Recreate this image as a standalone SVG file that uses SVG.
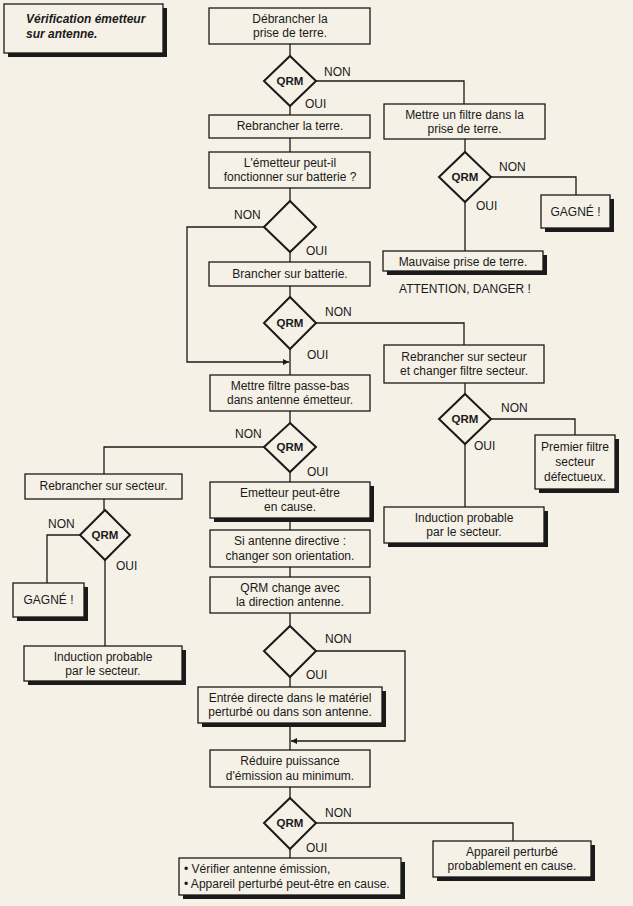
<svg xmlns="http://www.w3.org/2000/svg" width="633" height="906" viewBox="0 0 633 906">
<defs>
<style>
.bg{fill:#f5f1e7}
.box{fill:#f5f1e7;stroke:#1a1a1a;stroke-width:1.3}
.sh{fill:#1a1a1a}
.dia{fill:#f5f1e7;stroke:#1a1a1a;stroke-width:2}
.ln{fill:none;stroke:#1a1a1a;stroke-width:1.3}
text{font-family:"Liberation Sans",Arial,sans-serif;font-size:12px;fill:#1a1a1a}
.c{text-anchor:middle}
.q{font-weight:bold;font-size:11.5px;text-anchor:middle}
.t{font-weight:bold;font-style:italic}
</style>
<marker id="ar" viewBox="0 0 10 10" refX="10" refY="5" markerWidth="7" markerHeight="6" orient="auto" markerUnits="userSpaceOnUse"><path d="M0,0 L10,5 L0,10 z" fill="#1a1a1a"/></marker>
</defs>
<rect class="bg" x="0" y="0" width="633" height="906"/>

<g id="connectors">
<path class="ln" d="M290,44 V56 M290,106 V115 M290,138 V152 M290,188 V201 M290,252 V262 M290,286 V297 M290,349 V375 M290,411 V423 M290,472 V482 M290,518 V530 M290,567 V577 M290,613 V626 M290,677 V687 M290,723 V750 M290,787 V798 M290,849 V858"/>
<path class="ln" d="M316,81 H464 V104"/>
<path class="ln" d="M465,139 V152 M465,202 V251"/>
<path class="ln" d="M491,177 H576 V195"/>
<path class="ln" d="M264,227 H187 V362 H289" marker-end="url(#ar)"/>
<path class="ln" d="M316,323 H464 V345"/>
<path class="ln" d="M465,383 V394 M465,444 V507"/>
<path class="ln" d="M491,419 H575 V435"/>
<path class="ln" d="M264,447 H104 V474"/>
<path class="ln" d="M104,499 V510 M105,560 V646"/>
<path class="ln" d="M80,535 H47 V583"/>
<path class="ln" d="M316,651 H405 V741 H291" marker-end="url(#ar)"/>
<path class="ln" d="M316,823 H513 V841"/>
</g>

<g id="title">
<rect class="sh" x="8" y="8" width="159" height="49"/>
<rect class="box" x="4" y="4" width="159" height="49"/>
<text class="t" x="26" y="23">Vérification émetteur</text>
<text class="t" x="26" y="38">sur antenne.</text>
</g>

<g id="n1"><rect class="box" x="209" y="8" width="161" height="36"/><text class="c" x="290" y="23">Débrancher la</text><text class="c" x="290" y="37">prise de terre.</text></g>
<g id="d1"><polygon class="dia" points="290,56 316,81 290,106 264,81"/><text class="q" x="290" y="85">QRM</text><text x="324" y="76">NON</text><text x="305" y="108">OUI</text></g>
<g id="n2"><rect class="box" x="209" y="115" width="161" height="23"/><text class="c" x="290" y="130">Rebrancher la terre.</text></g>
<g id="n3"><rect class="box" x="209" y="152" width="161" height="36"/><text class="c" x="290" y="166.5">L'émetteur peut-il</text><text class="c" x="290" y="180.5">fonctionner sur batterie ?</text></g>
<g id="d2"><polygon class="dia" points="290,201 316,227 290,252 264,227"/><text x="234" y="219">NON</text><text x="306" y="255">OUI</text></g>
<g id="n4"><rect class="box" x="209" y="262" width="161" height="24"/><text class="c" x="290" y="278">Brancher sur batterie.</text></g>

<g id="n5"><rect class="box" x="384" y="104" width="161" height="35"/><text class="c" x="464.5" y="118.5">Mettre un filtre dans la</text><text class="c" x="464.5" y="132.5">prise de terre.</text></g>
<g id="d3"><polygon class="dia" points="465,152 491,177 465,202 439,177"/><text class="q" x="465" y="181">QRM</text><text x="499" y="171">NON</text><text x="476" y="210">OUI</text></g>
<g id="n6"><rect class="sh" x="545" y="199" width="69" height="33"/><rect class="box" x="541" y="195" width="69" height="33"/><text class="c" x="575.5" y="215.5">GAGNÉ !</text></g>
<g id="n7"><rect class="sh" x="387" y="255" width="160" height="20"/><rect class="box" x="383" y="251" width="160" height="20"/><text class="c" x="463" y="265.5">Mauvaise prise de terre.</text><text class="c" x="465" y="293">ATTENTION, DANGER !</text></g>

<g id="d4"><polygon class="dia" points="290,297 316,323 290,349 264,323"/><text class="q" x="290" y="327">QRM</text><text x="325" y="316">NON</text><text x="307" y="359">OUI</text></g>
<g id="n8"><rect class="box" x="384" y="345" width="160" height="38"/><text class="c" x="464" y="361">Rebrancher sur secteur</text><text class="c" x="464" y="375">et changer filtre secteur.</text></g>
<g id="n9"><rect class="box" x="210" y="375" width="160" height="36"/><text class="c" x="290" y="389.5">Mettre filtre passe-bas</text><text class="c" x="290" y="403.5">dans antenne émetteur.</text></g>
<g id="d5"><polygon class="dia" points="290,423 316,447 290,472 264,447"/><text class="q" x="290" y="451">QRM</text><text x="235" y="438">NON</text><text x="307" y="476">OUI</text></g>
<g id="d6"><polygon class="dia" points="465,394 491,419 465,444 439,419"/><text class="q" x="465" y="423">QRM</text><text x="501" y="412">NON</text><text x="474" y="450">OUI</text></g>
<g id="n13"><rect class="sh" x="539" y="439" width="80" height="54"/><rect class="box" x="535" y="435" width="80" height="54"/><text class="c" x="575" y="451">Premier filtre</text><text class="c" x="575" y="466">secteur</text><text class="c" x="575" y="481">défectueux.</text></g>
<g id="n14"><rect class="sh" x="388" y="511" width="160" height="36"/><rect class="box" x="384" y="507" width="160" height="36"/><text class="c" x="464" y="521.5">Induction probable</text><text class="c" x="464" y="536">par le secteur.</text></g>

<g id="n10"><rect class="box" x="25" y="474" width="157" height="25"/><text class="c" x="103.5" y="490">Rebrancher sur secteur.</text></g>
<g id="n11"><rect class="sh" x="214" y="486" width="160" height="36"/><rect class="box" x="210" y="482" width="160" height="36"/><text class="c" x="290" y="496.5">Emetteur peut-être</text><text class="c" x="290" y="511">en cause.</text></g>
<g id="n12"><rect class="box" x="210" y="530" width="160" height="37"/><text class="c" x="290" y="545">Si antenne directive :</text><text class="c" x="290" y="559.5">changer son orientation.</text></g>
<g id="d7"><polygon class="dia" points="105,510 130,535 105,560 80,535"/><text class="q" x="105" y="539">QRM</text><text x="48" y="528">NON</text><text x="116" y="570">OUI</text></g>
<g id="n15"><rect class="sh" x="17" y="587" width="71" height="34"/><rect class="box" x="13" y="583" width="71" height="34"/><text class="c" x="48.5" y="604">GAGNÉ !</text></g>
<g id="n16"><rect class="sh" x="28" y="650" width="158" height="35"/><rect class="box" x="24" y="646" width="158" height="35"/><text class="c" x="103" y="660.5">Induction probable</text><text class="c" x="103" y="675">par le secteur.</text></g>

<g id="n17"><rect class="box" x="210" y="577" width="160" height="36"/><text class="c" x="290" y="591.5">QRM change avec</text><text class="c" x="290" y="606">la direction antenne.</text></g>
<g id="d8"><polygon class="dia" points="290,626 316,651 290,677 264,651"/><text x="325" y="643">NON</text><text x="306" y="679">OUI</text></g>
<g id="n18"><rect class="sh" x="202" y="691" width="184" height="36"/><rect class="box" x="198" y="687" width="184" height="36"/><text class="c" x="290" y="701.5">Entrée directe dans le matériel</text><text class="c" x="290" y="716">perturbé ou dans son antenne.</text></g>
<g id="n19"><rect class="box" x="210" y="750" width="160" height="37"/><text class="c" x="290" y="765">Réduire puissance</text><text class="c" x="290" y="779.5">d'émission au minimum.</text></g>
<g id="d9"><polygon class="dia" points="290,798 316,823 290,849 264,823"/><text class="q" x="290" y="827">QRM</text><text x="325" y="817">NON</text><text x="306" y="852">OUI</text></g>
<g id="n20"><rect class="sh" x="437" y="845" width="158" height="36"/><rect class="box" x="433" y="841" width="158" height="36"/><text class="c" x="512" y="855.5">Appareil perturbé</text><text class="c" x="512" y="870">probablement en cause.</text></g>
<g id="n21"><rect class="sh" x="183" y="862" width="222" height="37"/><rect class="box" x="179" y="858" width="222" height="37"/><text x="184" y="873">• Vérifier antenne émission,</text><text x="184" y="888">• Appareil perturbé peut-être en cause.</text></g>
</svg>
